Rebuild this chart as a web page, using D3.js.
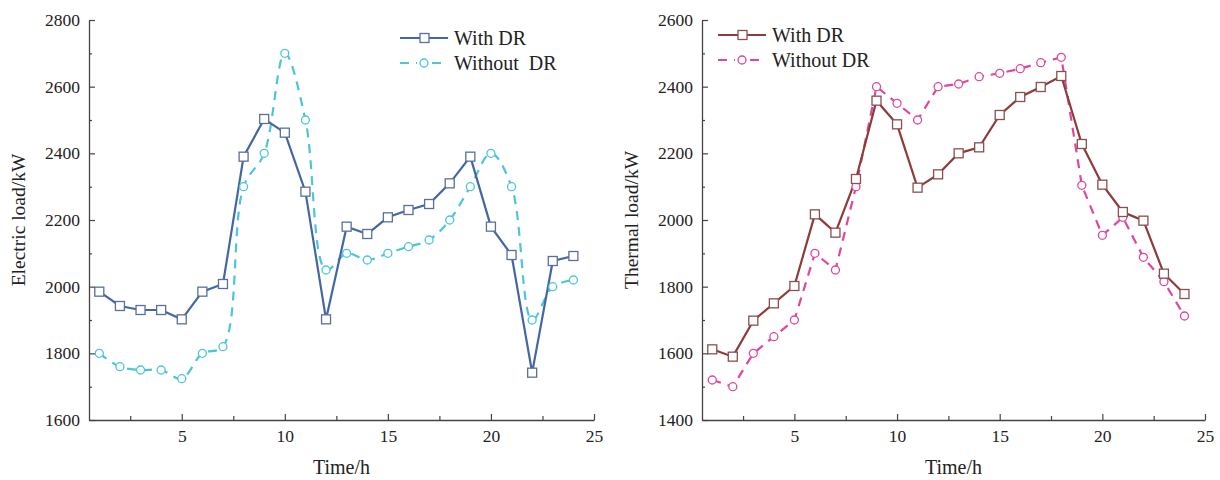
<!DOCTYPE html>
<html>
<head>
<meta charset="utf-8">
<script src="https://cdn.jsdelivr.net/npm/d3@7"></script>
<style>
  body { margin: 0; background: #fff; }
  svg text { font-family: "Times New Roman", "Liberation Serif", serif; fill: #222; }
</style>
</head>
<body>
<div id="chart"></div>
<script>
var hours = d3.range(1, 25);

// electric load (kW)
var elecWithDR = [1985, 1942, 1930, 1930, 1902, 1985, 2008, 2390, 2503, 2462, 2285, 1902,
                  2180, 2158, 2208, 2230, 2248, 2310, 2390, 2180, 2095, 1742, 2077, 2092];
var elecWithoutDR = [1800, 1760, 1750, 1750, 1724, 1800, 1820, 2300, 2400, 2700, 2500, 2050,
                     2100, 2080, 2100, 2120, 2140, 2200, 2300, 2400, 2300, 1900, 2000, 2020];

// thermal load (kW)
var heatWithDR = [1612, 1590, 1698, 1750, 1802, 2017, 1962, 2123, 2358, 2287, 2097, 2137,
                  2200, 2218, 2315, 2369, 2399, 2432, 2228, 2106, 2024, 1998, 1839, 1778];
var heatWithoutDR = [1520, 1500, 1600, 1650, 1700, 1900, 1850, 2100, 2400, 2350, 2300, 2400,
                     2408, 2430, 2440, 2454, 2472, 2488, 2104, 1954, 2008, 1888, 1815, 1712];

var xTicks = [5, 10, 15, 20, 25];
var xMinor = [2.5, 7.5, 12.5, 17.5, 22.5];

var W = 1220, H = 480;
var svg = d3.select("#chart").append("svg")
    .attr("width", W)
    .attr("height", H);

function drawPanel(cfg) {
    var x = d3.scaleLinear().domain([0.5, 25]).range([cfg.left, cfg.right]);
    var y = d3.scaleLinear().domain(cfg.yDomain).range([420, 20]);
    var g = svg.append("g");

    // minor ticks first
    g.append("g")
        .attr("transform", "translate(0,420)")
        .call(d3.axisBottom(x).tickValues(xMinor).tickSize(-4).tickFormat(""))
        .call(function(s){ s.select(".domain").remove(); });
    g.append("g")
        .attr("transform", "translate(" + cfg.left + ",0)")
        .call(d3.axisLeft(y).tickValues(cfg.yMinor).tickSize(-3).tickFormat(""))
        .call(function(s){ s.select(".domain").remove(); });

    var xAxis = g.append("g")
        .attr("transform", "translate(0,420)")
        .call(d3.axisBottom(x).tickValues(xTicks).tickFormat(d3.format("d"))
            .tickSizeInner(-6).tickSizeOuter(0).tickPadding(10));
    var yAxis = g.append("g")
        .attr("transform", "translate(" + cfg.left + ",0)")
        .call(d3.axisLeft(y).tickValues(cfg.yTicks).tickFormat(d3.format("d"))
            .tickSizeInner(-6).tickSizeOuter(0).tickPadding(9));

    [xAxis, yAxis].forEach(function(a){
        a.selectAll("text").style("font-size", "17.5px").attr("fill", "#222")
            .style("font-family", '"Times New Roman", "Liberation Serif", serif');
        a.select(".domain").attr("stroke", "#444").attr("stroke-width", 1.3);
    });
    g.selectAll("line").attr("stroke", "#444").attr("stroke-width", 1.2);

    // axis titles
    g.append("text")
        .attr("x", (cfg.left + cfg.right) / 2)
        .attr("y", 474)
        .attr("text-anchor", "middle")
        .style("font-size", "20px")
        .text("Time/h");
    g.append("text")
        .attr("transform", "translate(" + cfg.titleX + ",220) rotate(-90)")
        .attr("text-anchor", "middle")
        .style("font-size", "19.5px")
        .text(cfg.yTitle);

    // without DR: dashed line + circles
    var lineB = d3.line()
        .x(function(d, i){ return x(hours[i]); })
        .y(function(d){ return y(d); })
        .curve(cfg.smooth ? d3.curveCatmullRom.alpha(0.5) : d3.curveLinear);
    g.append("path")
        .datum(cfg.without)
        .attr("d", lineB)
        .attr("fill", "none")
        .attr("stroke", cfg.colB)
        .attr("stroke-width", 2.2)
        .attr("stroke-dasharray", "9,7");

    // with DR: solid line + squares
    var lineA = d3.line()
        .x(function(d, i){ return x(hours[i]); })
        .y(function(d){ return y(d); });
    g.append("path")
        .datum(cfg.withDR)
        .attr("d", lineA)
        .attr("fill", "none")
        .attr("stroke", cfg.colA)
        .attr("stroke-width", 2.2);

    g.selectAll(".circ")
        .data(cfg.without)
        .enter()
        .append("circle")
        .attr("class", "circ")
        .attr("cx", function(d, i){ return x(hours[i]); })
        .attr("cy", function(d){ return y(d); })
        .attr("r", 4)
        .attr("fill", "#fff")
        .attr("stroke", cfg.colB)
        .attr("stroke-width", 1.3);

    g.selectAll(".sq")
        .data(cfg.withDR)
        .enter()
        .append("rect")
        .attr("class", "sq")
        .attr("x", function(d, i){ return x(hours[i]) - 4.5; })
        .attr("y", function(d){ return y(d) - 4.5; })
        .attr("width", 9)
        .attr("height", 9)
        .attr("fill", "#fff")
        .attr("stroke", cfg.colSq)
        .attr("stroke-width", 1.3);

    // legend
    var lg = g.append("g").attr("transform", "translate(" + cfg.legX + "," + cfg.legY + ")");
    lg.append("line").attr("x1", 0).attr("x2", 48).attr("y1", 0).attr("y2", 0)
        .attr("stroke", cfg.colA).attr("stroke-width", 2.2);
    lg.append("rect").attr("x", 20).attr("y", -4.5).attr("width", 9).attr("height", 9)
        .attr("fill", "#fff").attr("stroke", cfg.colSq).attr("stroke-width", 1.3);
    lg.append("text").attr("x", 54).attr("y", 7).style("font-size", "20px").text("With DR");

    lg.append("line").attr("x1", 0).attr("x2", 48).attr("y1", 25).attr("y2", 25)
        .attr("stroke", cfg.colB).attr("stroke-width", 2.2).attr("stroke-dasharray", "9,7");
    lg.append("rect").attr("x", 17).attr("y", 19).attr("width", 14).attr("height", 12).attr("fill", "#fff");
    lg.append("circle").attr("cx", 24).attr("cy", 25).attr("r", 4)
        .attr("fill", "#fff").attr("stroke", cfg.colB).attr("stroke-width", 1.3);
    lg.append("text").attr("x", 54).attr("y", 32).style("font-size", "20px")
        .style("white-space", "pre").text(cfg.legB);
}

drawPanel({
    left: 89, right: 594,
    yDomain: [1600, 2800],
    yTicks: d3.range(1600, 2801, 200),
    yMinor: d3.range(1700, 2800, 200),
    yTitle: "Electric load/kW",
    titleX: 25,
    withDR: elecWithDR,
    without: elecWithoutDR,
    colA: "#4467a3", colSq: "#5b6f99", colB: "#4cc6d6",
    smooth: true,
    legX: 400, legY: 38,
    legB: "Without  DR"
});

drawPanel({
    left: 702, right: 1205,
    yDomain: [1400, 2600],
    yTicks: d3.range(1400, 2601, 200),
    yMinor: d3.range(1500, 2600, 200),
    yTitle: "Thermal load/kW",
    titleX: 638,
    withDR: heatWithDR,
    without: heatWithoutDR,
    colA: "#8e3b3b", colSq: "#8a4f4f", colB: "#e0479a",
    smooth: false,
    legX: 718, legY: 35,
    legB: "Without DR"
});
</script>
</body>
</html>
